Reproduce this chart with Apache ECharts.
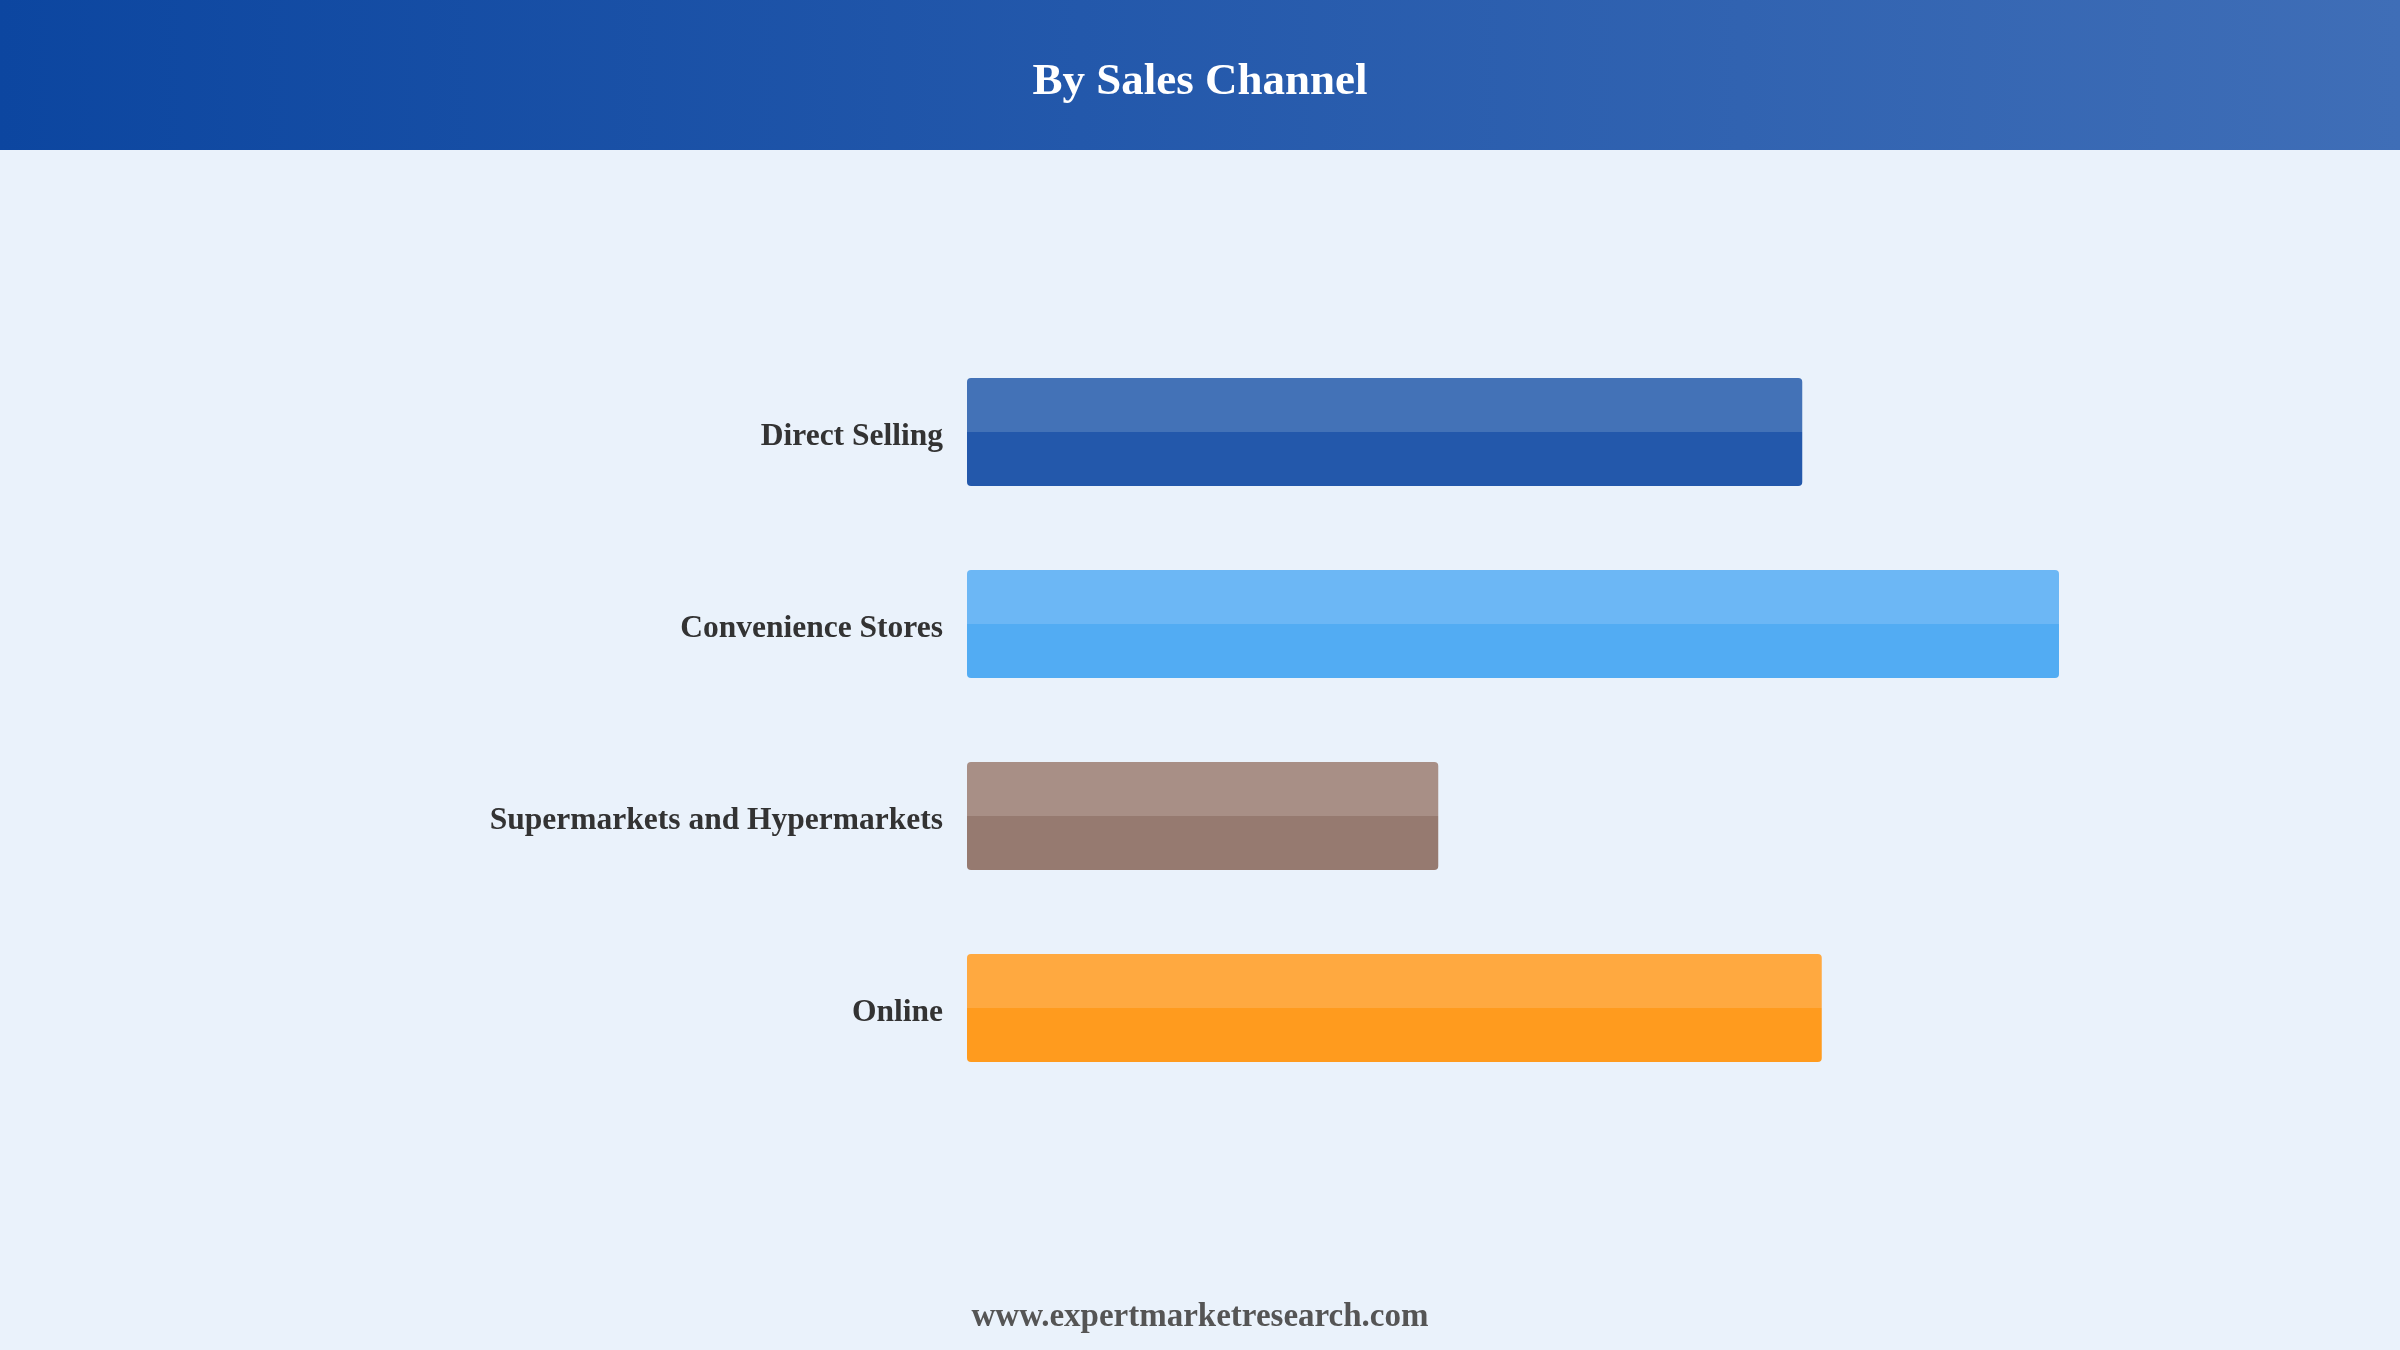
<!DOCTYPE html>
<html>
<head>
<meta charset="utf-8">
<script src="https://cdn.jsdelivr.net/npm/echarts@6/dist/echarts.min.js"></script>
<style>
html,body{margin:0;padding:0;width:2400px;height:1350px;background:#EAF2FB;}
#c{width:2400px;height:1350px;}
</style>
</head>
<body>
<div id="c"></div>
<script>
var titleText = 'By Sales Channel';
var footerText = 'www.expertmarketresearch.com';
var categories = ['Direct Selling', 'Convenience Stores', 'Supermarkets and Hypermarkets', 'Online'];
var values = [25.7, 33.6, 14.5, 26.3];
var topColors = ['#4372B7', '#6CB7F5', '#A88F86', '#FFA940'];
var bottomColors = ['#2358AB', '#52ACF3', '#967A70', '#FF9B1E'];

var chart = echarts.init(document.getElementById('c'), null, {renderer: 'canvas'});

var dataItems = values.map(function (v, i) {
  return {
    value: v,
    itemStyle: {
      color: new echarts.graphic.LinearGradient(0, 0, 0, 1, [
        {offset: 0, color: topColors[i]},
        {offset: 0.5, color: topColors[i]},
        {offset: 0.5, color: bottomColors[i]},
        {offset: 1, color: bottomColors[i]}
      ])
    }
  };
});

chart.setOption({
  backgroundColor: '#EAF2FB',
  animation: false,
  graphic: [
    {
      type: 'rect',
      left: 0, top: 0, z: 0,
      shape: {width: 2400, height: 150},
      style: {
        fill: new echarts.graphic.LinearGradient(0, 0, 1, 0, [
          {offset: 0, color: '#0C46A0'},
          {offset: 0.45, color: '#2358AB'},
          {offset: 1, color: '#3F6EB7'}
        ])
      }
    },
    {
      type: 'text',
      left: 'center', top: 60, z: 10,
      style: {
        text: titleText,
        fill: '#FFFFFF',
        font: 'bold 45px "Liberation Serif", "Times New Roman", serif'
      }
    },
    {
      type: 'text',
      left: 'center', top: 1301, z: 10,
      style: {
        text: footerText,
        fill: '#555555',
        font: 'bold 33px "Liberation Serif", "Times New Roman", serif'
      }
    }
  ],
  grid: {left: 967, right: 133, top: 336, bottom: 246, containLabel: false},
  xAxis: {
    type: 'value', min: 0, max: 40, show: false,
    splitLine: {show: false}
  },
  yAxis: {
    type: 'category',
    data: categories,
    inverse: true,
    axisLine: {show: false},
    axisTick: {show: false},
    splitLine: {show: false},
    axisLabel: {
      margin: 24,
      formatter: '{a|{value}}',
      rich: {
        a: {
          color: '#333333',
          fontSize: 31.5,
          fontWeight: 'bold',
          padding: [9, 0, 0, 0],
          fontFamily: '"Liberation Serif", "Times New Roman", serif'
        }
      }
    }
  },
  series: [{
    type: 'bar',
    data: dataItems,
    barWidth: 108,
    itemStyle: {borderRadius: 4},
    label: {show: false}
  }]
});
</script>
</body>
</html>
